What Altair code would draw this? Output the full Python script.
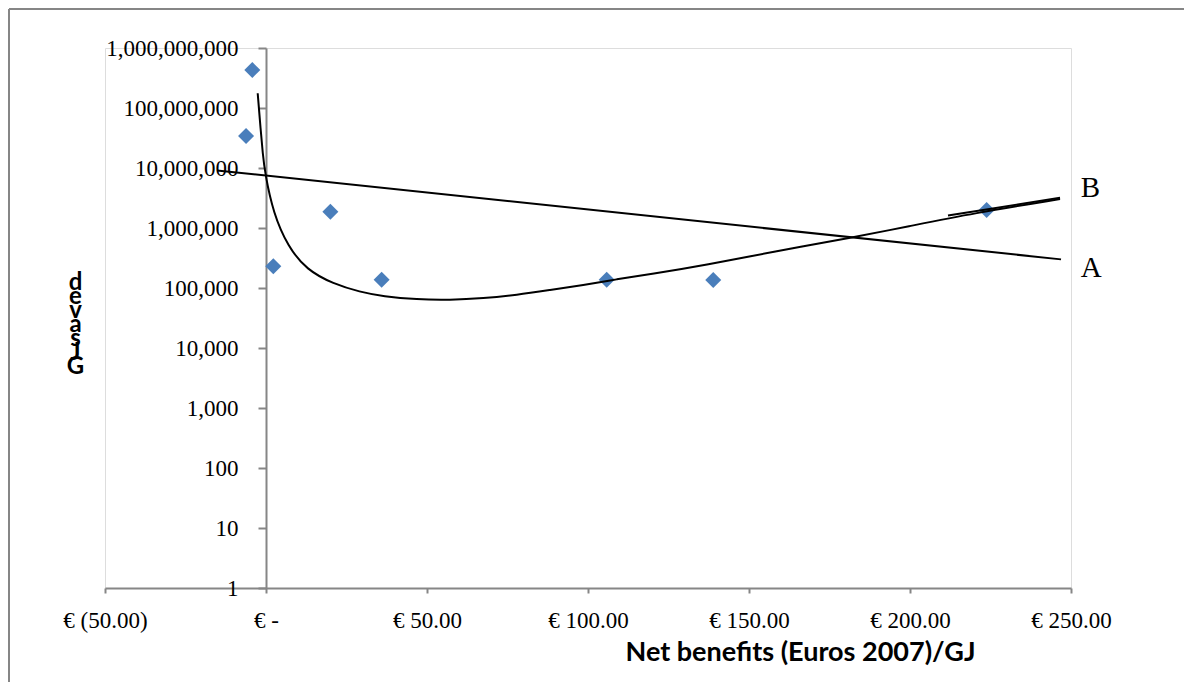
import altair as alt
import pandas as pd

# ---------------- data ----------------
point_x = [-4.25, -6.2, 2.27, 20.0, 35.9, 105.8, 138.9, 223.8]
point_y = [4.3e8, 3.42e7, 2.3e5, 1.87e6, 1.37e5, 1.37e5, 1.36e5, 2.0e6]

line_a_x = [-15.2, 246.9]
line_a_y = [9.1e6, 3.0e5]

line_b_x = [-2.58, -1.65, -1.02, -0.31, 2.27, 6.83, 12.64, 20.9, 29.2, 36.4,
            46.8, 57.1, 67.5, 77.9, 88.2, 98.5, 108.9, 119.3, 136.9, 157.5,
            182.4, 199.0, 219.7, 246.6]
line_b_y = [1.76e8, 4.30e7, 1.76e7, 8.16e6, 1.76e6, 4.88e5, 2.0e5, 1.17e5, 8.58e4, 7.22e4,
            6.43e4, 6.31e4, 6.73e4, 7.65e4, 9.26e4, 1.12e5, 1.40e5, 1.69e5, 2.42e5, 4.03e5,
            7.0e5, 1.05e6, 1.76e6, 3.04e6]

line_b2_x = [211.8, 246.6]
line_b2_y = [1.62e6, 3.19e6]

label_names = ["B", "A"]
label_x = [253.0, 253.0]
label_y = [4.64e6, 2.15e5]

x_ticks = [-50, 0, 50, 100, 150, 200, 250]
x_tick_labels = ["€ (50.00)", "€ -\u00a0\u00a0\u00a0", "\u00a0\u00a0€ 50.00", "€ 100.00",
                 "€ 150.00", "€ 200.00", "€ 250.00"]
y_ticks = [1, 10, 100, 1000, 10000, 100000, 1000000, 10000000, 100000000, 1000000000]

x_title = "Net benefits (Euros 2007)/GJ"
y_title_letters = ["d", "e", "v", "a", "s", "J", "G"]

# ---------------- tables ----------------
pts = pd.DataFrame({"x": point_x, "y": point_y})
la = pd.DataFrame({"x": line_a_x, "y": line_a_y})
lb = pd.DataFrame({"x": line_b_x, "y": line_b_y})
lb2 = pd.DataFrame({"x": line_b2_x, "y": line_b2_y})
labs = pd.DataFrame({"x": label_x, "y": label_y, "t": label_names})

GRAY = "#868686"
W, H = 966, 540

label_expr = " : ".join(
    f"datum.value == {v} ? '{l}'" for v, l in zip(x_ticks, x_tick_labels)
) + " : ''"

x_axis = alt.Axis(
    values=x_ticks, labelExpr=label_expr, title=x_title, grid=False,
    domainColor=GRAY, domainWidth=2, tickColor=GRAY, tickWidth=2, tickSize=5,
    labelFont="Liberation Serif", labelFontSize=23, labelColor="black",
    labelPadding=16, labelFlush=False, labelOverlap=False,
    titleFont="Lato", titleFontWeight="bold", titleFontSize=27, titleColor="black",
    titleX=695, titleY=64, titleAlign="center", titleBaseline="middle",
)
y_axis = alt.Axis(
    values=y_ticks, format=",", offset=-161, grid=False,
    domainColor=GRAY, domainWidth=2, tickColor=GRAY, tickWidth=2, tickSize=8,
    labelFont="Liberation Serif", labelFontSize=23, labelColor="black",
    labelPadding=20, labelFlush=False, labelOverlap=False,
    title=y_title_letters, titleAngle=0, titleX=-191, titleY=234,
    titleAlign="center", titleBaseline="middle", titleLineHeight=14,
    titleFont="Lato", titleFontWeight="bold", titleFontSize=24, titleColor="black",
)

X = alt.X("x:Q", scale=alt.Scale(domain=[-50, 250], nice=False, zero=False), axis=x_axis)
Y = alt.Y("y:Q", scale=alt.Scale(type="log", domain=[1, 1e9], nice=False), axis=y_axis)

dummy = pd.DataFrame({"a": [0]})
frame_top = alt.Chart(dummy).mark_rule(color=GRAY, strokeWidth=2).encode(
    x=alt.value(-96), x2=alt.value(W + 300), y=alt.value(-39)
)
frame_left = alt.Chart(dummy).mark_rule(color=GRAY, strokeWidth=2).encode(
    x=alt.value(-96), y=alt.value(-39), y2=alt.value(H + 300)
)

line_a = alt.Chart(la).mark_line(color="black", strokeWidth=2).encode(x=X, y=Y)
line_b = alt.Chart(lb).mark_line(color="black", strokeWidth=2, interpolate="basis").encode(x=X, y=Y)
line_b2 = alt.Chart(lb2).mark_line(color="black", strokeWidth=2).encode(x=X, y=Y)
points = alt.Chart(pts).mark_point(
    shape="diamond", filled=True, size=256, color="#4A7EBB", opacity=1
).encode(x=X, y=Y)
texts = alt.Chart(labs).mark_text(
    font="Liberation Serif", fontSize=29, align="left", baseline="middle", color="black"
).encode(x=X, y=Y, text="t:N")

chart = alt.layer(frame_top, frame_left, points, line_a, line_b, line_b2, texts).properties(
    width=W, height=H,
    padding={"left": 97, "top": 40, "right": 113, "bottom": 94},
    autosize="none",
).configure_view(stroke=None).configure(background="white")

chart.save("out.html", embed_options={"renderer": "svg", "actions": False})
